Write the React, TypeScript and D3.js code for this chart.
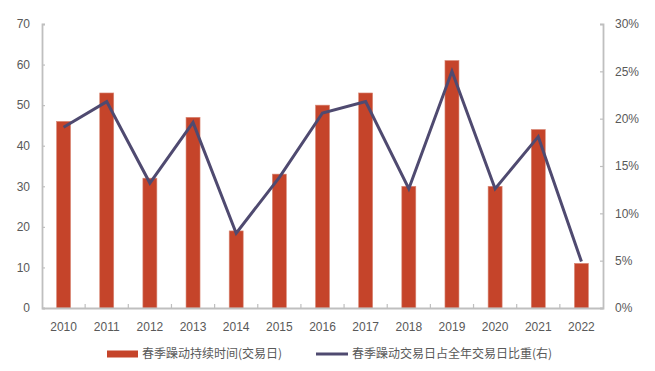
import React, { useEffect, useRef } from 'react';
import * as d3 from 'd3';

const years = ['2010', '2011', '2012', '2013', '2014', '2015', '2016', '2017', '2018', '2019', '2020', '2021', '2022'];
const durationDays = [46, 53, 32, 47, 19, 33, 50, 53, 30, 61, 30, 44, 11];
const shareOfYear = [0.191, 0.218, 0.132, 0.196, 0.079, 0.138, 0.206, 0.218, 0.126, 0.25, 0.126, 0.181, 0.049];
const leftTicks = [0, 10, 20, 30, 40, 50, 60, 70];
const rightTicks = [0, 0.05, 0.1, 0.15, 0.2, 0.25, 0.3];
const barLabel = '春季躁动持续时间(交易日)';
const lineLabel = '春季躁动交易日占全年交易日比重(右)';

const W = 655;
const H = 371;
const barColor = '#C5442A';
const lineColor = '#4F4A70';
const axisColor = '#BFBFBF';
const textColor = '#595959';
const font = '"Liberation Sans", Arial, sans-serif';

const App = () => {
  const ref = useRef<SVGSVGElement>(null);

  useEffect(() => {
    const svg = d3.select(ref.current);
    svg.selectAll('*').remove();

    const m = { left: 42, right: 52, top: 24, bottom: 63 };
    const innerW = W - m.left - m.right;
    const innerH = H - m.top - m.bottom;

    const g = svg.append('g').attr('transform', `translate(${m.left},${m.top})`);

    const x = d3.scaleBand().domain(years).range([0, innerW]);
    const yL = d3.scaleLinear().domain([0, 70]).range([innerH, 0]);
    const yR = d3.scaleLinear().domain([0, 0.3]).range([innerH, 0]);

    // bars
    const bw = 14;
    g.selectAll('.bar')
      .data(years)
      .enter()
      .append('rect')
      .attr('x', (d) => x(d)! + x.bandwidth() / 2 - bw / 2)
      .attr('y', (d, i) => yL(durationDays[i]))
      .attr('width', bw)
      .attr('height', (d, i) => innerH - yL(durationDays[i]))
      .attr('fill', barColor)
      .attr('stroke', '#D98A78')
      .attr('stroke-width', 0.6);

    // left axis
    const left = g.append('g').call(d3.axisLeft(yL).tickValues(leftTicks).tickSize(-3).tickPadding(12));
    // right axis
    const right = g
      .append('g')
      .attr('transform', `translate(${innerW},0)`)
      .call(d3.axisRight(yR).tickValues(rightTicks).tickSize(-3).tickPadding(12).tickFormat(d3.format('.0%')));
    // bottom axis
    const bottom = g
      .append('g')
      .attr('transform', `translate(0,${innerH})`)
      .call(d3.axisBottom(x).tickSize(0).tickPadding(14));
    bottom
      .selectAll('.sep')
      .data(d3.range(1, years.length))
      .enter()
      .append('line')
      .attr('x1', (i) => i * x.step())
      .attr('x2', (i) => i * x.step())
      .attr('y1', 0)
      .attr('y2', -4)
      .attr('stroke', axisColor)
      .attr('stroke-width', 1.2);

    [left, right, bottom].forEach((a) => {
      a.selectAll('.domain').attr('stroke', axisColor).attr('stroke-width', 1.8);
      a.selectAll('.tick line').attr('stroke', axisColor).attr('stroke-width', 1.2);
      a.selectAll('text').attr('fill', textColor).style('font-size', '12px').style('font-family', font);
    });

    // line
    const line = d3
      .line<number>()
      .x((d, i) => x(years[i])! + x.bandwidth() / 2)
      .y((d) => yR(d));
    g.append('path')
      .datum(shareOfYear)
      .attr('d', line)
      .attr('fill', 'none')
      .attr('stroke', lineColor)
      .attr('stroke-width', 3)
      .attr('stroke-linejoin', 'miter');

    // legend
    const lg = svg.append('g').attr('transform', `translate(0,${H - 17})`);
    lg.append('rect').attr('x', 107).attr('y', -3.5).attr('width', 31).attr('height', 7).attr('fill', barColor);
    lg.append('text')
      .attr('x', 142)
      .attr('y', 0)
      .attr('dy', '0.35em')
      .text(barLabel)
      .attr('fill', textColor)
      .style('font-size', '12px')
      .style('font-family', '"Noto Sans CJK SC", sans-serif');
    lg.append('line').attr('x1', 316).attr('x2', 348).attr('y1', 0).attr('y2', 0).attr('stroke', lineColor).attr('stroke-width', 3);
    lg.append('text')
      .attr('x', 352)
      .attr('y', 0)
      .attr('dy', '0.35em')
      .text(lineLabel)
      .attr('fill', textColor)
      .style('font-size', '12px')
      .style('font-family', '"Noto Sans CJK SC", sans-serif');
  }, []);

  return (
    <svg ref={ref} width={W} height={H} style={{ position: 'absolute', left: 0, top: 0, background: '#fff' }} />
  );
};

export default App;
